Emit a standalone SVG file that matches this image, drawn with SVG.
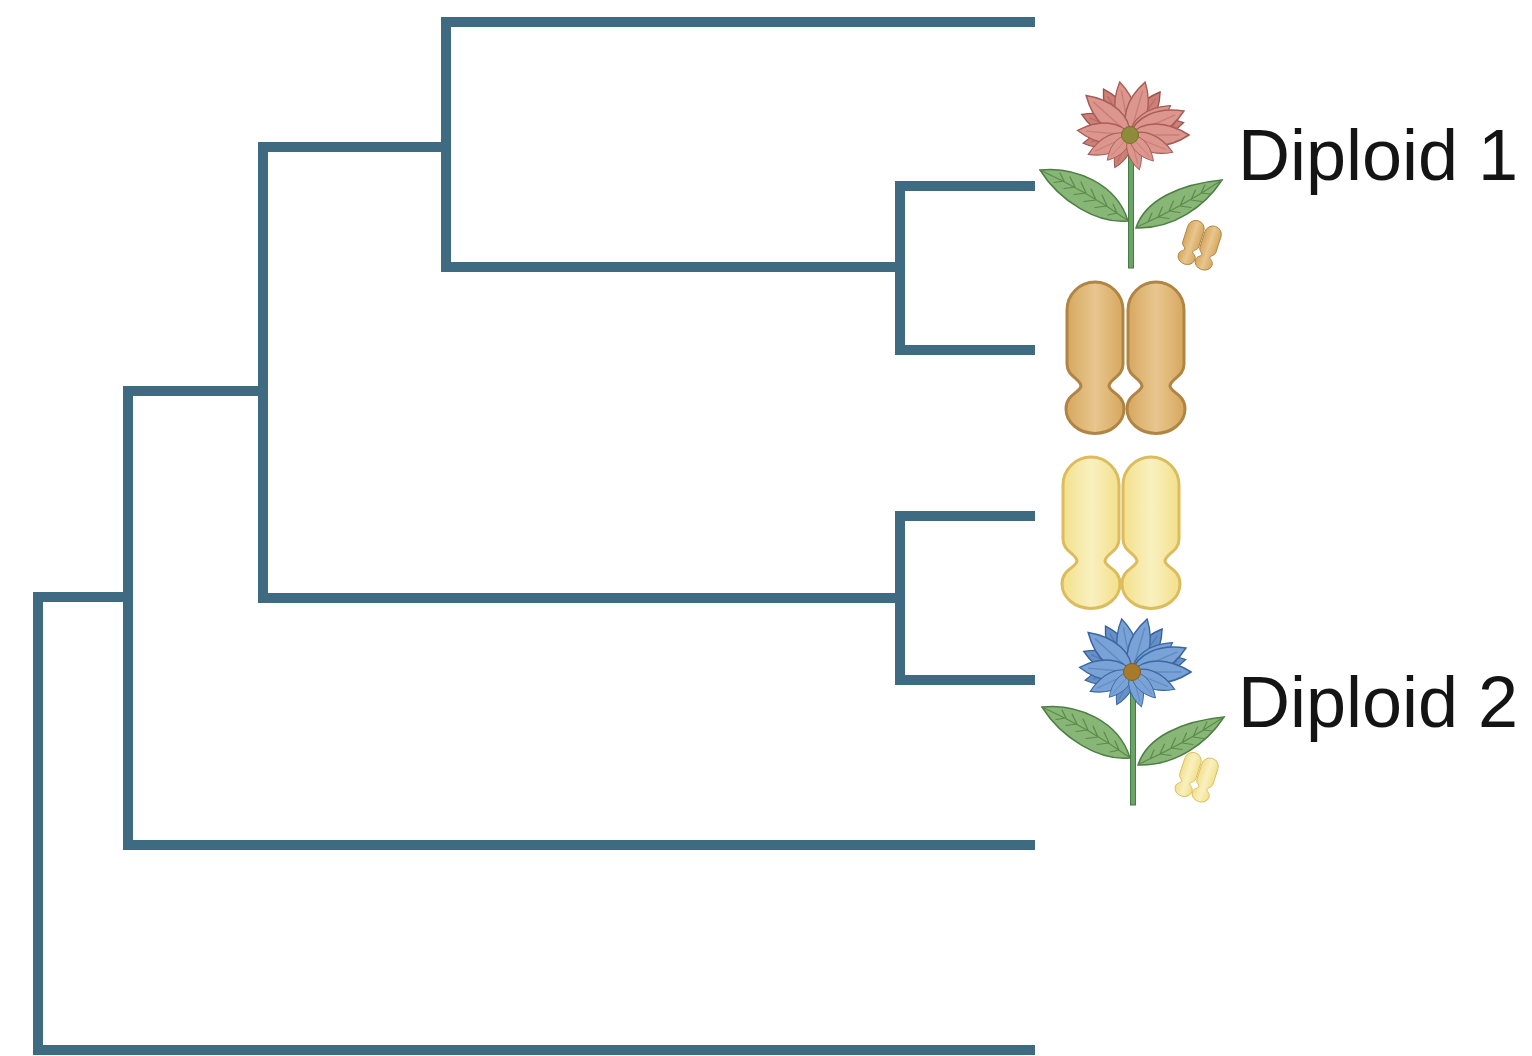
<svg xmlns="http://www.w3.org/2000/svg" xmlns:xlink="http://www.w3.org/1999/xlink" width="1532" height="1056" viewBox="0 0 1532 1056">
  <style>
    .branch { fill: none; stroke: #3e6a82; stroke-width: 10; stroke-linejoin: miter; stroke-linecap: butt; }
    .label { font-family: "Liberation Sans", Arial, sans-serif; font-size: 72px; fill: #141414; }
    .petal-red { fill: #dc968d; stroke: #a95d56; stroke-width: 1.3; }
    .petal-red-back { fill: #cd8078; stroke: #9c524c; stroke-width: 1.3; }
    .petal-blue { fill: #79a3d6; stroke: #3c66a2; stroke-width: 1.3; }
    .petal-blue-back { fill: #6590c8; stroke: #35609c; stroke-width: 1.3; }
    .leaf { fill: #88b676; stroke: #4d7e44; stroke-width: 1.5; }
    .vein { fill: none; stroke: #5a8a4e; stroke-width: 1.2; stroke-linecap: round; }
    .stem { fill: #6aa567; stroke: #437c42; stroke-width: 1; }
    .chromo-tan { fill: url(#gradTan); stroke: #b08544; stroke-width: 3; }
    .chromo-yellow { fill: url(#gradYellow); stroke: #dcbc5e; stroke-width: 3; }
  </style>
  <defs>
    <linearGradient id="gradTan" x1="0" y1="0" x2="1" y2="0">
      <stop offset="0" stop-color="#d6a75e"/>
      <stop offset="0.5" stop-color="#e8c68e"/>
      <stop offset="1" stop-color="#d6a75e"/>
    </linearGradient>
    <linearGradient id="gradYellow" x1="0" y1="0" x2="1" y2="0">
      <stop offset="0" stop-color="#f3e08a"/>
      <stop offset="0.5" stop-color="#f9f0c0"/>
      <stop offset="1" stop-color="#f3e08a"/>
    </linearGradient>
    <!-- one chromatid: long upper arm, centromere pinch, round lower lobe -->
    <path id="chromatid" d="M0,28 A28,28 0 0 1 56,28 L56,82 C56,95 43,96 42,104 C43,111 57,112 57,127 A28.5,24 0 0 1 -1,127 C-1,112 13,111 14,104 C13,96 0,95 0,82 Z"/>
    <g id="petal">
      <path d="M0,0 C10,-12 30,-13 50,0 C30,13 10,12 0,0 Z"/>
      <path d="M6,0 L42,0" fill="none" stroke-opacity="0.4"/>
    </g>
    <!-- stem and two leaves of the plant -->
    <g id="plant">
      <rect class="stem" x="1128.5" y="138" width="5" height="130"/>
      <path class="leaf" d="M1040,170 C1075,166 1117,184 1128,221 C1098,224 1060,202 1040,170 Z"/>
      <path class="vein" d="M1127,220 Q1088,192 1040,170 M1107,206 l-5,-11 M1086,193 l-5,-11 M1064,181 l-4,-8 M1107,206 l-12,1.5 M1086,193 l-12,1.5 M1064,181 l-10,1.5 M1117,213 l-4,-9 M1096,200 l-5,-11 M1075,187 l-5,-10 M1117,213 l-9,2 M1096,200 l-12,1.5 M1075,187 l-11,1.5"/>
      <path class="leaf" d="M1136,228 C1145,200 1180,184 1222,180 C1205,206 1174,229 1136,228 Z"/>
      <path class="vein" d="M1137,227 Q1180,208 1222,180 M1158,217 l4.5,-10 M1180,206 l4.5,-10 M1201,193 l4,-8 M1158,217 l11,1.5 M1180,206 l11,1.5 M1201,193 l9,1 M1148,222 l4,-9 M1169,211 l4.5,-10 M1191,200 l4.5,-10 M1169,211 l11,1.5 M1191,200 l11,1.5"/>
    </g>
    <!-- daisy head built from rotated petals -->
    <g id="headBack">
      <use xlink:href="#petal" href="#petal" transform="rotate(-120) scale(1.06)"/>
      <use xlink:href="#petal" href="#petal" transform="rotate(-55) scale(1.05)"/>
      <use xlink:href="#petal" href="#petal" transform="rotate(-157) scale(1.05)"/>
      <use xlink:href="#petal" href="#petal" transform="rotate(-13) scale(1.1)"/>
      <use xlink:href="#petal" href="#petal" transform="rotate(170) scale(0.95)"/>
      <use xlink:href="#petal" href="#petal" transform="rotate(115) scale(0.72)"/>
    </g>
    <g id="headFront">
      <use xlink:href="#petal" href="#petal" transform="rotate(-101) scale(1.08)"/>
      <use xlink:href="#petal" href="#petal" transform="rotate(-74) scale(1.1)"/>
      <use xlink:href="#petal" href="#petal" transform="rotate(-138) scale(1.18)"/>
      <use xlink:href="#petal" href="#petal" transform="rotate(-36) scale(1.0)"/>
      <use xlink:href="#petal" href="#petal" transform="rotate(-24) scale(1.18)"/>
      <use xlink:href="#petal" href="#petal" transform="rotate(-175) scale(1.05)"/>
      <use xlink:href="#petal" href="#petal" transform="rotate(0) scale(1.18)"/>
      <use xlink:href="#petal" href="#petal" transform="rotate(155) scale(0.92)"/>
      <use xlink:href="#petal" href="#petal" transform="rotate(132) scale(0.68)"/>
      <use xlink:href="#petal" href="#petal" transform="rotate(75) scale(0.72)"/>
      <use xlink:href="#petal" href="#petal" transform="rotate(22) scale(0.92)"/>
      <use xlink:href="#petal" href="#petal" transform="rotate(48) scale(0.7)"/>
    </g>
  </defs>

  <rect width="1532" height="1056" fill="#ffffff"/>

  <!-- tree branches -->
  <g id="connectors">
    <path class="branch" d="M128,597 H38 V1050 H1035"/>
    <path class="branch" d="M263,391 H128 V845 H1035"/>
    <path class="branch" d="M446,147 H263 V598 H900"/>
    <path class="branch" d="M1035,22 H446 V267 H900"/>
    <path class="branch" d="M1035,186 H900 V350 H1035"/>
    <path class="branch" d="M1035,516 H900 V680 H1035"/>
  </g>

  <!-- diploid 1: red flower with small tan chromosome -->
  <g id="diploid-1">
    <use xlink:href="#plant" href="#plant"/>
    <g transform="translate(1130,135)">
      <use xlink:href="#headBack" href="#headBack" class="petal-red-back"/>
      <use xlink:href="#headFront" href="#headFront" class="petal-red"/>
      <circle r="8.5" fill="#8e8c3b" stroke="#75722e" stroke-width="1"/>
    </g>
    <g transform="translate(1200,245) rotate(18) scale(0.3) translate(-58,-75)">
      <use xlink:href="#chromatid" href="#chromatid" class="chromo-tan"/>
      <use xlink:href="#chromatid" href="#chromatid" class="chromo-tan" x="60"/>
    </g>
    <text class="label" x="1238" y="180">Diploid 1</text>
  </g>

  <!-- tan chromosome pair -->
  <g id="chromosome-tan" transform="translate(1067,282)">
    <use xlink:href="#chromatid" href="#chromatid" class="chromo-tan"/>
    <use xlink:href="#chromatid" href="#chromatid" class="chromo-tan" x="61"/>
  </g>

  <!-- yellow chromosome pair -->
  <g id="chromosome-yellow" transform="translate(1063,457)">
    <use xlink:href="#chromatid" href="#chromatid" class="chromo-yellow"/>
    <use xlink:href="#chromatid" href="#chromatid" class="chromo-yellow" x="60"/>
  </g>

  <!-- diploid 2: blue flower with small yellow chromosome -->
  <g id="diploid-2">
    <use xlink:href="#plant" href="#plant" transform="translate(2,537)"/>
    <g transform="translate(1132,672)">
      <use xlink:href="#headBack" href="#headBack" class="petal-blue-back"/>
      <use xlink:href="#headFront" href="#headFront" class="petal-blue"/>
      <circle r="8.5" fill="#a67a2a" stroke="#86601e" stroke-width="1"/>
    </g>
    <g transform="translate(1197,777) rotate(18) scale(0.3) translate(-58,-75)">
      <use xlink:href="#chromatid" href="#chromatid" class="chromo-yellow"/>
      <use xlink:href="#chromatid" href="#chromatid" class="chromo-yellow" x="60"/>
    </g>
    <text class="label" x="1238" y="727">Diploid 2</text>
  </g>
</svg>
